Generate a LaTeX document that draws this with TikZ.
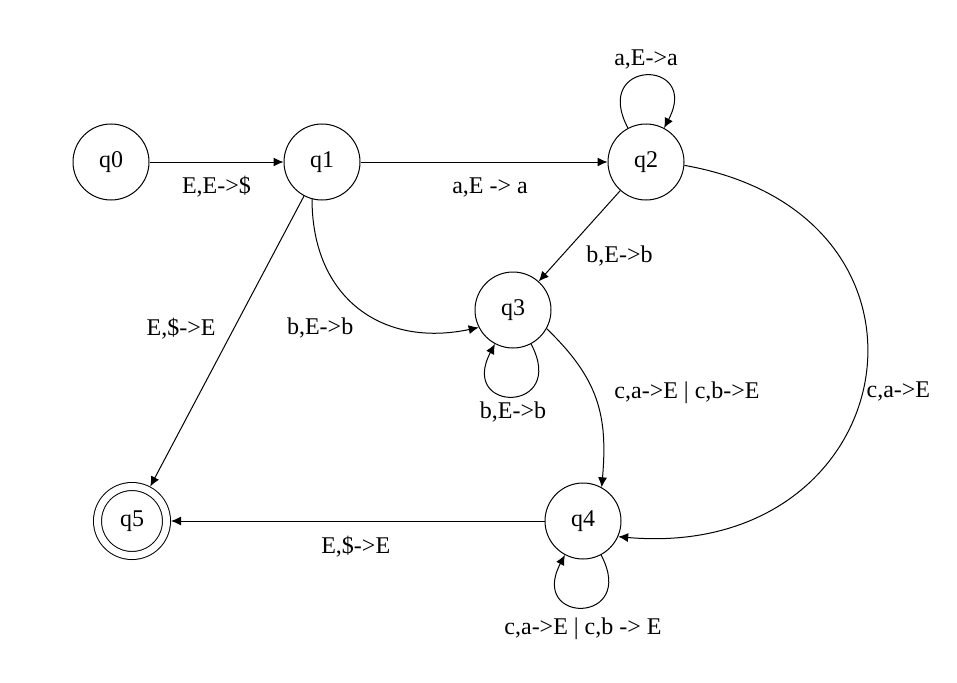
\documentclass[tikz,border=0pt]{standalone}
\usepackage{fontspec}
\setmainfont{Liberation Serif}
\usetikzlibrary{arrows.meta, automata}

\begin{document}
\begin{tikzpicture}[x=1pt, y=1pt, ->, >={Latex[length=10pt,width=9pt]}, line width=1pt,
    every state/.style={draw, minimum size=76pt, inner sep=0pt},
    finalstate/.style={double, double distance=7pt, minimum size=69pt, outer sep=4.5pt},
    font=\fontsize{24}{28}\selectfont]
      \useasboundingbox (0,0) rectangle (957,-682);
      \node[state] (q0) at (111,-162) {q0};
      \node[state] (q1) at (322,-162) {q1};
      \node[state] (q2) at (646,-162) {q2};
      \node[state] (q3) at (513,-310) {q3};
      \node[state] (q4) at (583,-521) {q4};
      \node[state, finalstate] (q5) at (132,-521) {q5};

        \path (q0) edge node[yshift=-25pt] {E,E->\$} (q1)
            (q1) edge node[xshift=6pt, yshift=-25pt] {a,E -> a} (q2)
            (q2) edge[out=118, in=62, looseness=5.6] node[yshift=16pt] {a,E->a} (q2)
            (q2) edge node[xshift=40pt, yshift=-20pt] {b,E->b} (q3)
            (q1.-105) edge[out=-90, in=192, looseness=1.2] node[xshift=-39pt, yshift=-20pt] {b,E->b} (q3.207)
            (q1) edge node[xshift=-46pt, yshift=13pt] {E,\$->E} (q5)
            (q3) edge[out=-62, in=-118, looseness=5.6] node[yshift=-16pt] {b,E->b} (q3)
            (q3.-29) edge[out=-44, in=85, looseness=1.1] node[xshift=91pt, yshift=7pt] {c,a->E | c,b->E} (q4.61)
            (q2.-5) edge[out=-10, in=-5, looseness=1.95] node[xshift=34pt, yshift=-12pt] {c,a->E} (q4.-24)
            (q4) edge node[xshift=-2pt, yshift=-26pt] {E,\$->E} (q5)
            (q4) edge[out=-62, in=-118, looseness=5.6] node[yshift=-21pt] {c,a->E | c,b -> E} (q4)
              ;

    \end{tikzpicture}
\end{document}
